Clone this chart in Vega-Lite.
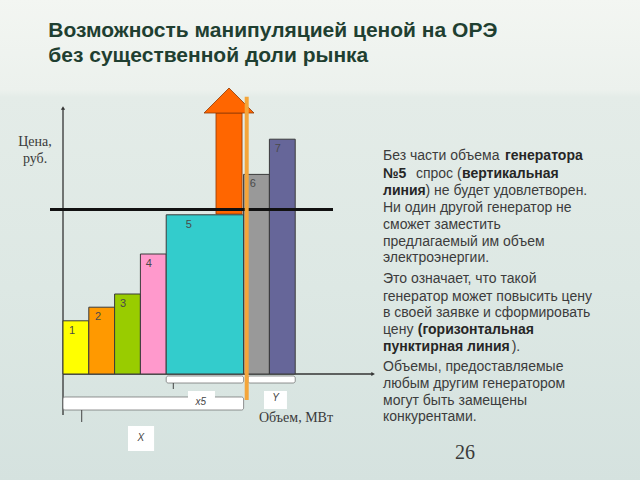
{
  "$schema": "https://vega.github.io/schema/vega-lite/v6.json",
  "width": 640,
  "height": 480,
  "autosize": "none",
  "padding": 0,
  "background": "#e2ebe7",
  "config": {"view": {"stroke": null}},
  "datasets": {
    "bg": [{"x": -25, "x2": 225, "y": -27, "y2": 94}],
    "bars": [
      {"gen": "1", "x0": 0, "x1": 10, "price": 13.3, "lx": 3.5},
      {"gen": "2", "x0": 10, "x1": 20, "price": 16.7, "lx": 13.6},
      {"gen": "3", "x0": 20, "x1": 30, "price": 20, "lx": 23.3},
      {"gen": "4", "x0": 30, "x1": 40, "price": 30, "lx": 33.3},
      {"gen": "5", "x0": 40, "x1": 70, "price": 39.8, "lx": 48.8},
      {"gen": "6", "x0": 70, "x1": 80, "price": 49.9, "lx": 73.6},
      {"gen": "7", "x0": 80, "x1": 90, "price": 58.7, "lx": 83.3}
    ],
    "axes": [
      {"name": "price", "x": 0, "x2": 0, "y": -10.25, "y2": 66.25},
      {"name": "volume", "x": 0, "x2": 119.8, "y": 0, "y2": 0}
    ],
    "heads": [
      {"name": "price", "x": 0, "y": 66.5, "shape": "triangle-up"},
      {"name": "volume", "x": 120.2, "y": 0, "shape": "triangle-right"}
    ],
    "shaft": [{"x": 59.3, "x2": 69.4, "y": 40, "y2": 65.25}],
    "arrowhead": [
      {"x": 54.65, "y": 65.25, "y2": 65.25},
      {"x": 64.34, "y": 71.5, "y2": 65.25},
      {"x": 74.03, "y": 65.25, "y2": 65.25}
    ],
    "priceline": [{"x": -5.04, "x2": 104.65, "y": 41.1}],
    "demand": [{"x": 71.2, "y": -6.5, "y2": 69.3}],
    "brackets": [
      {"name": "b5", "x": 40, "x2": 70, "y": -0.5, "y2": -2.25},
      {"name": "b67", "x": 71.7, "x2": 90, "y": -0.5, "y2": -2.25},
      {"name": "bX", "x": 0, "x2": 70, "y": -5.75, "y2": -9}
    ],
    "ticks": [
      {"x": 42.75, "y": -2.25, "y2": -3.75},
      {"x": 7.25, "y": -9, "y2": -12}
    ],
    "boxes": [
      {"label": "x5", "x": 48.45, "x2": 58.9, "y": -4.25, "y2": -6.6, "tx": 53.4, "ty": -6.9},
      {"label": "Y", "x": 77.9, "x2": 86.8, "y": -4.25, "y2": -8.75, "tx": 82.4, "ty": -6.1},
      {"label": "X", "x": 25.2, "x2": 35.3, "y": -13, "y2": -19.25, "tx": 30.2, "ty": -15.9}
    ],
    "serif": [
      {"text": "Цена,", "x": -10.85, "y": 57, "align": "center", "size": 14},
      {"text": "руб.", "x": -10.85, "y": 52.75, "align": "center", "size": 14},
      {"text": "Объем, МВт", "x": 90.3, "y": -11.9, "align": "left", "size": 14},
      {"text": "26", "x": 155.8, "y": -21.25, "align": "left", "size": 20}
    ],
    "title": [
      {"text": "Возможность манипуляцией ценой на ОРЭ", "x": -5.7, "y": 84.3},
      {"text": "без существенной доли рынка", "x": -5.7, "y": 78.1}
    ],
    "notes": [
      {"text": "Без части объема", "x": 124.03, "y": 54.5, "w": "normal"},
      {"text": "генератора", "x": 171.3, "y": 54.5, "w": "bold"},
      {"text": "№5", "x": 124.03, "y": 50.1, "w": "bold"},
      {"text": "спрос (", "x": 136.8, "y": 50.1, "w": "normal"},
      {"text": "вертикальная", "x": 154.65, "y": 50.1, "w": "bold"},
      {"text": "линия", "x": 124.03, "y": 45.75, "w": "bold"},
      {"text": ") не будет удовлетворен.", "x": 140.5, "y": 45.75, "w": "normal"},
      {"text": "Ни один другой генератор не", "x": 124.03, "y": 41.5, "w": "normal"},
      {"text": "сможет заместить", "x": 124.03, "y": 37.25, "w": "normal"},
      {"text": "предлагаемый им объем", "x": 124.03, "y": 32.9, "w": "normal"},
      {"text": "электроэнергии.", "x": 124.03, "y": 28.9, "w": "normal"},
      {"text": "Это означает, что такой", "x": 124.03, "y": 23.75, "w": "normal"},
      {"text": "генератор может повысить цену", "x": 124.03, "y": 19.3, "w": "normal"},
      {"text": "в своей заявке и сформировать", "x": 124.03, "y": 15.2, "w": "normal"},
      {"text": "цену", "x": 124.03, "y": 11, "w": "normal"},
      {"text": "(горизонтальная", "x": 137.5, "y": 11, "w": "bold"},
      {"text": "пунктирная линия", "x": 124.03, "y": 6.7, "w": "bold"},
      {"text": ").", "x": 173.9, "y": 6.7, "w": "normal"},
      {"text": "Объемы, предоставляемые", "x": 124.03, "y": 1.7, "w": "normal"},
      {"text": "любым другим генератором", "x": 124.03, "y": -2.5, "w": "normal"},
      {"text": "могут быть замещены", "x": 124.03, "y": -6.7, "w": "normal"},
      {"text": "конкурентами.", "x": 124.03, "y": -10.8, "w": "normal"}
    ]
  },
  "layer": [
    {
      "data": {"name": "bg"},
      "mark": {"type": "rect", "clip": true, "color": {"gradient": "linear", "x1": 0, "y1": 0, "x2": 0, "y2": 1, "stops": [
        {"offset": 0, "color": "#f3f6f2"},
        {"offset": 0.19, "color": "#ecf1ed"},
        {"offset": 0.205, "color": "#e4ece8"},
        {"offset": 0.6, "color": "#dde8e4"},
        {"offset": 1, "color": "#d5e2df"}
      ]}},
      "encoding": {
        "x": {"field": "x", "type": "quantitative", "scale": {"domain": [-24.42, 223.64], "nice": false, "zero": false}, "axis": null},
        "x2": {"field": "x2"},
        "y": {"field": "y", "type": "quantitative", "scale": {"domain": [-26.5, 93.5], "nice": false, "zero": false}, "axis": null},
        "y2": {"field": "y2"}
      }
    },
    {
      "data": {"name": "axes"},
      "mark": {"type": "rule", "color": "#333333", "strokeWidth": 1.3},
      "encoding": {
        "x": {"field": "x", "type": "quantitative", "scale": {"domain": [-24.42, 223.64], "nice": false, "zero": false}, "axis": null},
        "x2": {"field": "x2"},
        "y": {"field": "y", "type": "quantitative", "scale": {"domain": [-26.5, 93.5], "nice": false, "zero": false}, "axis": null},
        "y2": {"field": "y2"}
      }
    },
    {
      "data": {"name": "heads"},
      "mark": {"type": "point", "filled": true, "color": "#333333", "size": 18, "opacity": 1},
      "encoding": {
        "x": {"field": "x", "type": "quantitative", "scale": {"domain": [-24.42, 223.64], "nice": false, "zero": false}, "axis": null},
        "y": {"field": "y", "type": "quantitative", "scale": {"domain": [-26.5, 93.5], "nice": false, "zero": false}, "axis": null},
        "shape": {"field": "shape", "type": "nominal", "scale": null, "legend": null}
      }
    },
    {
      "data": {"name": "shaft"},
      "mark": {"type": "rect", "color": "#ff6600", "stroke": "#8f3a05", "strokeWidth": 0.8},
      "encoding": {
        "x": {"field": "x", "type": "quantitative", "scale": {"domain": [-24.42, 223.64], "nice": false, "zero": false}, "axis": null},
        "x2": {"field": "x2"},
        "y": {"field": "y", "type": "quantitative", "scale": {"domain": [-26.5, 93.5], "nice": false, "zero": false}, "axis": null},
        "y2": {"field": "y2"}
      }
    },
    {
      "data": {"name": "arrowhead"},
      "mark": {"type": "area", "orient": "vertical", "color": "#ff6600", "stroke": "#8f3a05", "strokeWidth": 0.8, "opacity": 1},
      "encoding": {
        "x": {"field": "x", "type": "quantitative", "scale": {"domain": [-24.42, 223.64], "nice": false, "zero": false}, "axis": null},
        "y": {"field": "y", "type": "quantitative", "scale": {"domain": [-26.5, 93.5], "nice": false, "zero": false}, "axis": null},
        "y2": {"field": "y2"}
      }
    },
    {
      "data": {"name": "bars"},
      "mark": {"type": "rect", "stroke": "#3a3a3a", "strokeWidth": 1, "opacity": 1},
      "encoding": {
        "x": {"field": "x0", "type": "quantitative", "scale": {"domain": [-24.42, 223.64], "nice": false, "zero": false}, "axis": null},
        "x2": {"field": "x1"},
        "y": {"field": "price", "type": "quantitative", "scale": {"domain": [-26.5, 93.5], "nice": false, "zero": false}, "axis": null},
        "y2": {"datum": 0},
        "fill": {"field": "gen", "type": "nominal", "legend": null, "scale": {"domain": ["1", "2", "3", "4", "5", "6", "7"], "range": ["#ffff00", "#ff9900", "#99cc00", "#ff99cc", "#33cccc", "#999999", "#666699"]}}
      }
    },
    {
      "data": {"name": "bars"},
      "mark": {"type": "text", "font": "Liberation Sans", "fontSize": 11, "color": "#4a4a4a", "align": "center", "baseline": "middle", "dy": 10},
      "encoding": {
        "x": {"field": "lx", "type": "quantitative", "scale": {"domain": [-24.42, 223.64], "nice": false, "zero": false}, "axis": null},
        "y": {"field": "price", "type": "quantitative", "scale": {"domain": [-26.5, 93.5], "nice": false, "zero": false}, "axis": null},
        "text": {"field": "gen"}
      }
    },
    {
      "data": {"name": "brackets"},
      "mark": {"type": "rect", "color": "#ffffff", "stroke": "#666666", "strokeWidth": 0.7, "cornerRadius": 2},
      "encoding": {
        "x": {"field": "x", "type": "quantitative", "scale": {"domain": [-24.42, 223.64], "nice": false, "zero": false}, "axis": null},
        "x2": {"field": "x2"},
        "y": {"field": "y", "type": "quantitative", "scale": {"domain": [-26.5, 93.5], "nice": false, "zero": false}, "axis": null},
        "y2": {"field": "y2"}
      }
    },
    {
      "data": {"name": "ticks"},
      "mark": {"type": "rule", "color": "#444444", "strokeWidth": 1},
      "encoding": {
        "x": {"field": "x", "type": "quantitative", "scale": {"domain": [-24.42, 223.64], "nice": false, "zero": false}, "axis": null},
        "y": {"field": "y", "type": "quantitative", "scale": {"domain": [-26.5, 93.5], "nice": false, "zero": false}, "axis": null},
        "y2": {"field": "y2"}
      }
    },
    {
      "data": {"name": "boxes"},
      "mark": {"type": "rect", "color": "#ffffff", "opacity": 1},
      "encoding": {
        "x": {"field": "x", "type": "quantitative", "scale": {"domain": [-24.42, 223.64], "nice": false, "zero": false}, "axis": null},
        "x2": {"field": "x2"},
        "y": {"field": "y", "type": "quantitative", "scale": {"domain": [-26.5, 93.5], "nice": false, "zero": false}, "axis": null},
        "y2": {"field": "y2"}
      }
    },
    {
      "data": {"name": "boxes"},
      "mark": {"type": "text", "font": "Liberation Sans", "fontSize": 10, "fontStyle": "italic", "color": "#444444", "align": "center", "baseline": "middle"},
      "encoding": {
        "x": {"field": "tx", "type": "quantitative", "scale": {"domain": [-24.42, 223.64], "nice": false, "zero": false}, "axis": null},
        "y": {"field": "ty", "type": "quantitative", "scale": {"domain": [-26.5, 93.5], "nice": false, "zero": false}, "axis": null},
        "text": {"field": "label"}
      }
    },
    {
      "data": {"name": "priceline"},
      "mark": {"type": "rule", "color": "#111111", "strokeWidth": 3},
      "encoding": {
        "x": {"field": "x", "type": "quantitative", "scale": {"domain": [-24.42, 223.64], "nice": false, "zero": false}, "axis": null},
        "x2": {"field": "x2"},
        "y": {"field": "y", "type": "quantitative", "scale": {"domain": [-26.5, 93.5], "nice": false, "zero": false}, "axis": null}
      }
    },
    {
      "data": {"name": "demand"},
      "mark": {"type": "rule", "color": "#f4a53a", "strokeWidth": 4},
      "encoding": {
        "x": {"field": "x", "type": "quantitative", "scale": {"domain": [-24.42, 223.64], "nice": false, "zero": false}, "axis": null},
        "y": {"field": "y", "type": "quantitative", "scale": {"domain": [-26.5, 93.5], "nice": false, "zero": false}, "axis": null},
        "y2": {"field": "y2"}
      }
    },
    {
      "data": {"name": "serif"},
      "mark": {"type": "text", "font": "Liberation Serif", "color": "#3a3a3a", "baseline": "alphabetic"},
      "encoding": {
        "x": {"field": "x", "type": "quantitative", "scale": {"domain": [-24.42, 223.64], "nice": false, "zero": false}, "axis": null},
        "y": {"field": "y", "type": "quantitative", "scale": {"domain": [-26.5, 93.5], "nice": false, "zero": false}, "axis": null},
        "text": {"field": "text"},
        "align": {"field": "align", "type": "nominal", "scale": null, "legend": null},
        "size": {"field": "size", "type": "quantitative", "scale": null, "legend": null}
      }
    },
    {
      "data": {"name": "title"},
      "mark": {"type": "text", "font": "Liberation Sans", "fontSize": 21, "fontWeight": "bold", "color": "#1f3f31", "align": "left", "baseline": "alphabetic"},
      "encoding": {
        "x": {"field": "x", "type": "quantitative", "scale": {"domain": [-24.42, 223.64], "nice": false, "zero": false}, "axis": null},
        "y": {"field": "y", "type": "quantitative", "scale": {"domain": [-26.5, 93.5], "nice": false, "zero": false}, "axis": null},
        "text": {"field": "text"}
      }
    },
    {
      "data": {"name": "notes"},
      "transform": [{"filter": "datum.w === 'normal'"}],
      "mark": {"type": "text", "font": "Liberation Sans", "fontSize": 14, "color": "#3c3c3c", "align": "left", "baseline": "middle"},
      "encoding": {
        "x": {"field": "x", "type": "quantitative", "scale": {"domain": [-24.42, 223.64], "nice": false, "zero": false}, "axis": null},
        "y": {"field": "y", "type": "quantitative", "scale": {"domain": [-26.5, 93.5], "nice": false, "zero": false}, "axis": null},
        "text": {"field": "text"}
      }
    },
    {
      "data": {"name": "notes"},
      "transform": [{"filter": "datum.w === 'bold'"}],
      "mark": {"type": "text", "font": "Liberation Sans", "fontSize": 14, "fontWeight": "bold", "color": "#262626", "align": "left", "baseline": "middle"},
      "encoding": {
        "x": {"field": "x", "type": "quantitative", "scale": {"domain": [-24.42, 223.64], "nice": false, "zero": false}, "axis": null},
        "y": {"field": "y", "type": "quantitative", "scale": {"domain": [-26.5, 93.5], "nice": false, "zero": false}, "axis": null},
        "text": {"field": "text"}
      }
    }
  ]
}
